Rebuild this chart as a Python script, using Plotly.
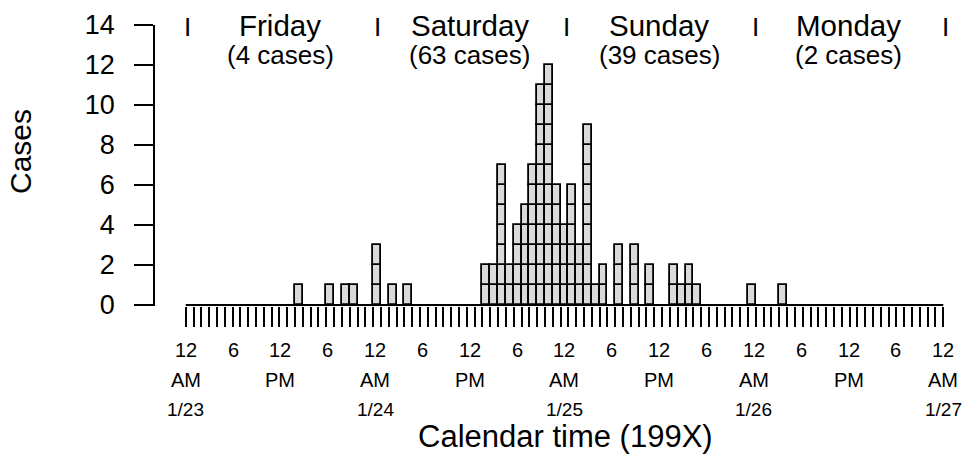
import plotly.graph_objects as go

# ---------------- data ----------------
# cases per one-hour interval, keyed by hour index counted from 12 AM 1/23
onset_hours = [14, 18, 20, 21,
               24, 26, 28, 38, 39, 40, 41, 42, 43, 44, 45, 46, 47,
               48, 49, 50, 51, 52, 53, 55, 57, 59, 62, 63, 64, 65,
               72, 76]
case_counts = [1, 1, 1, 1,
               3, 1, 1, 2, 2, 7, 2, 4, 5, 7, 11, 12, 6,
               4, 6, 3, 9, 1, 2, 3, 3, 2, 2, 1, 2, 1,
               1, 1]

day_names = ["Friday", "Saturday", "Sunday", "Monday"]
day_cases = [4, 63, 39, 2]
day_centers = [12, 36, 60, 84]          # hours
day_bounds = [0, 24, 48, 72, 96]        # hours

hour_label_pos = [0, 6, 12, 18, 24, 30, 36, 42, 48, 54, 60, 66, 72, 78, 84, 90, 96]
hour_labels = ["12", "6", "12", "6", "12", "6", "12", "6", "12", "6", "12", "6", "12", "6", "12", "6", "12"]
ampm_pos = [0, 12, 24, 36, 48, 60, 72, 84, 96]
ampm_labels = ["AM", "PM", "AM", "PM", "AM", "PM", "AM", "PM", "AM"]
date_pos = [0, 24, 48, 72, 96]
date_labels = ["1/23", "1/24", "1/25", "1/26", "1/27"]

n_intervals = 97
y_ticks = [0, 2, 4, 6, 8, 10, 12, 14]

# ---------------- figure ----------------
FONT = "Liberation Sans, Arial, Helvetica, sans-serif"
LABEL_SCALE = n_intervals / 96.0   # label positions spread over the full 97-interval axis

# one unit box per case
bx, bbase = [], []
for h, c in zip(onset_hours, case_counts):
    for k in range(c):
        bx.append(h + 0.5)
        bbase.append(k)

fig = go.Figure()
fig.add_trace(go.Bar(
    x=bx, y=[1] * len(bx), base=bbase, width=1,
    marker=dict(color="#dadada", line=dict(color="black", width=1.8)),
    hoverinfo="skip", showlegend=False,
))

W, H = 962, 456
ml, mr, mt, mb = 155, 14, 25, 150
px_per_h = 7.81
x_lo = -(185.7 - ml) / px_per_h
x_hi = x_lo + (W - ml - mr) / px_per_h
y_lo, y_hi = -0.05, 14.0
plot_h = H - mt - mb

def ypaper(px):
    # pixel row -> paper coordinate
    return (H - mb - px) / plot_h

shapes = [dict(type="line", xref="x", yref="y", x0=0, x1=n_intervals, y0=0, y1=0,
               line=dict(color="black", width=2), layer="above")]

ann = []
def add(x, ypx, text, size, xref="x", angle=0, xshift=0):
    ann.append(dict(x=x, y=ypaper(ypx), xref=xref, yref="paper", text=text, showarrow=False,
                    font=dict(family=FONT, size=size, color="black"),
                    xanchor="center", yanchor="middle", textangle=angle, xshift=xshift))

for b in day_bounds:
    add(b * LABEL_SCALE, 27, "I", 26, xshift=2)
for name, n, c in zip(day_names, day_cases, day_centers):
    add(c * LABEL_SCALE, 26, name, 29.5)
    add(c * LABEL_SCALE, 55, f"({n} cases)", 26)
for p, t in zip(hour_label_pos, hour_labels):
    add(p * LABEL_SCALE, 350, t, 20)
for p, t in zip(ampm_pos, ampm_labels):
    add(p * LABEL_SCALE, 380, t, 20)
for p, t in zip(date_pos, date_labels):
    add(p * LABEL_SCALE, 409, t, 19)
add((565 - 185.7) / px_per_h, 436, "Calendar time (199X)", 31)
add((20 - ml) / (W - ml - mr), 152, "Cases", 30, xref="paper", angle=-90)

fig.update_layout(
    width=W, height=H,
    margin=dict(l=ml, r=mr, t=mt, b=mb, pad=0, autoexpand=False),
    plot_bgcolor="white", paper_bgcolor="white",
    barmode="overlay", bargap=0,
    shapes=shapes, annotations=ann,
    font=dict(family=FONT, color="black"),
    xaxis=dict(range=[x_lo, x_hi], showgrid=False, zeroline=False, showline=False,
               tickmode="array", tickvals=list(range(n_intervals + 1)),
               ticks="outside", ticklen=20, tickwidth=2, tickcolor="black",
               showticklabels=False, fixedrange=True, automargin=False),
    yaxis=dict(range=[y_lo, y_hi], showgrid=False, zeroline=False, showline=True,
               linecolor="black", linewidth=1.7,
               tickmode="array", tickvals=y_ticks,
               ticks="outside", ticklen=19, tickwidth=1.7, tickcolor="black",
               tickfont=dict(family=FONT, size=27, color="black"),
               ticklabelstandoff=14, fixedrange=True, automargin=False),
)

fig.write_html("out.html", config={"displayModeBar": False},
               post_script="document.body.style.margin='0px';document.body.style.overflow='hidden';")
